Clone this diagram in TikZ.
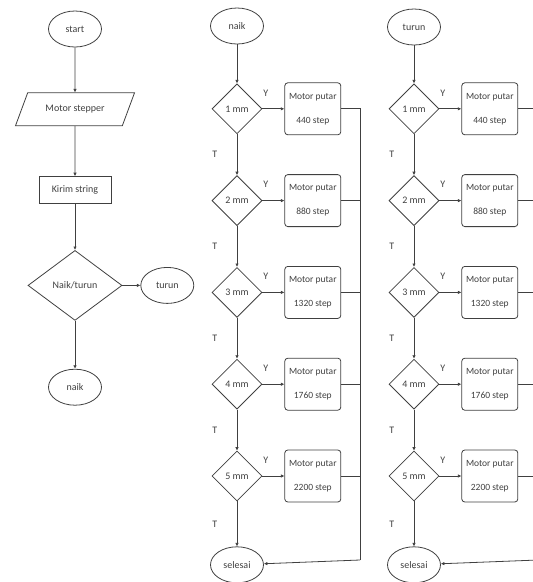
\documentclass[tikz,border=0pt]{standalone}
\usepackage{fontspec}
\setmainfont{Carlito}
\usepackage{tikz}
\usetikzlibrary{positioning,shapes.geometric,arrows.meta}

\begin{document}
\begin{tikzpicture}[x=1pt, y=1pt, node distance={41pt}, thick, color=black!75,
  font=\fontsize{10}{12}\selectfont, >={Latex[length=3.5pt,width=3.5pt]},
  term/.style = {draw, ellipse, minimum width=53pt, minimum height=36pt, inner sep=1pt},
  cek/.style = {draw, diamond, aspect=1, minimum width=50pt, minimum height=50pt, inner sep=0pt},
  proses/.style = {draw, rounded corners=3pt, minimum width=56pt, minimum height=52pt, inner sep=1pt, align=center, font=\fontsize{9.5}{24}\selectfont}]
      \useasboundingbox (0,0) rectangle (533,-582);
      \clip (0,0) rectangle (533,-582);
      %% kolom utama
      \node[term] (start) at (75,-29) {start};
      \node[draw, trapezium, trapezium left angle=60, trapezium right angle=120, trapezium stretches=true, minimum width=120pt, minimum height=33pt] (motor) [below=45pt of start] {Motor stepper};
      \node[draw, minimum width=72pt, minimum height=27pt] (kirim) [below=50pt of motor] {Kirim string};
      \node[cek, minimum width=94pt, minimum height=70pt] (nt) [below=46pt of kirim] {Naik/turun};
      \node[term] (naik1) [below=48pt of nt] {naik};
      \node[term] (turun1) [right=18pt of nt] {turun};
      \draw[->] (start) to (motor);
      \draw[->] (motor) to (kirim);
      \draw[->] (kirim) to (nt);
      \draw[->] (nt) to (turun1);
      \draw[->] (nt) to (naik1);
      %% kolom naik
      \node[term] (naik2) at (237,-26) {naik};
      \node[cek] (d21) [below=39pt of naik2] {1 mm};
      \node[cek] (d22) [below =of d21] {2 mm};
      \node[cek] (d23) [below =of d22] {3 mm};
      \node[cek] (d24) [below =of d23] {4 mm};
      \node[cek] (d25) [below =of d24] {5 mm};
      \node[term] (sel2) [below=45pt of d25] {selesai};
      \node[proses] (b21) [right=22pt of d21] {Motor putar\\440 step};
      \node[proses] (b22) [right=22pt of d22] {Motor putar\\880 step};
      \node[proses] (b23) [right=22pt of d23] {Motor putar\\1320 step};
      \node[proses] (b24) [right=22pt of d24] {Motor putar\\1760 step};
      \node[proses] (b25) [right=22pt of d25] {Motor putar\\2200 step};
      \coordinate (kanan2) at (360,-560);
      \draw[->] (naik2) to (d21);
      \draw[->] (d21) to node[left=16pt] {T} (d22);
      \draw[->] (d22) to node[left=16pt] {T} (d23);
      \draw[->] (d23) to node[left=16pt] {T} (d24);
      \draw[->] (d24) to node[left=16pt] {T} (d25);
      \draw[->] (d25) to node[left=16pt] {T} (sel2);
      \draw[->] (d21) to node[pos=0.15, above=9pt] {Y} (b21);
      \draw[->] (d22) to node[pos=0.15, above=9pt] {Y} (b22);
      \draw[->] (d23) to node[pos=0.15, above=9pt] {Y} (b23);
      \draw[->] (d24) to node[pos=0.15, above=9pt] {Y} (b24);
      \draw[->] (d25) to node[pos=0.15, above=9pt] {Y} (b25);
      \draw (b21) -| (kanan2);
      \draw (b22) -| (kanan2);
      \draw (b23) -| (kanan2);
      \draw (b24) -| (kanan2);
      \draw (b25) -| (kanan2);
      \draw[->] (kanan2) to (sel2);
      %% kolom turun
      \node[term] (turun2) at (414,-27) {turun};
      \node[cek] (d31) [below=38pt of turun2] {1 mm};
      \node[cek] (d32) [below =of d31] {2 mm};
      \node[cek] (d33) [below =of d32] {3 mm};
      \node[cek] (d34) [below =of d33] {4 mm};
      \node[cek] (d35) [below =of d34] {5 mm};
      \node[term] (sel3) [below=45pt of d35] {selesai};
      \node[proses] (b31) [right=22pt of d31] {Motor putar\\440 step};
      \node[proses] (b32) [right=22pt of d32] {Motor putar\\880 step};
      \node[proses] (b33) [right=22pt of d33] {Motor putar\\1320 step};
      \node[proses] (b34) [right=22pt of d34] {Motor putar\\1760 step};
      \node[proses] (b35) [right=22pt of d35] {Motor putar\\2200 step};
      \coordinate (kanan3) at (538,-560);
      \draw[->] (turun2) to (d31);
      \draw[->] (d31) to node[left=16pt] {T} (d32);
      \draw[->] (d32) to node[left=16pt] {T} (d33);
      \draw[->] (d33) to node[left=16pt] {T} (d34);
      \draw[->] (d34) to node[left=16pt] {T} (d35);
      \draw[->] (d35) to node[left=16pt] {T} (sel3);
      \draw[->] (d31) to node[pos=0.15, above=9pt] {Y} (b31);
      \draw[->] (d32) to node[pos=0.15, above=9pt] {Y} (b32);
      \draw[->] (d33) to node[pos=0.15, above=9pt] {Y} (b33);
      \draw[->] (d34) to node[pos=0.15, above=9pt] {Y} (b34);
      \draw[->] (d35) to node[pos=0.15, above=9pt] {Y} (b35);
      \draw (b31) -| (kanan3);
      \draw (b32) -| (kanan3);
      \draw (b33) -| (kanan3);
      \draw (b34) -| (kanan3);
      \draw (b35) -| (kanan3);
      \draw[->] (kanan3) to (sel3);
\end{tikzpicture}
\end{document}
